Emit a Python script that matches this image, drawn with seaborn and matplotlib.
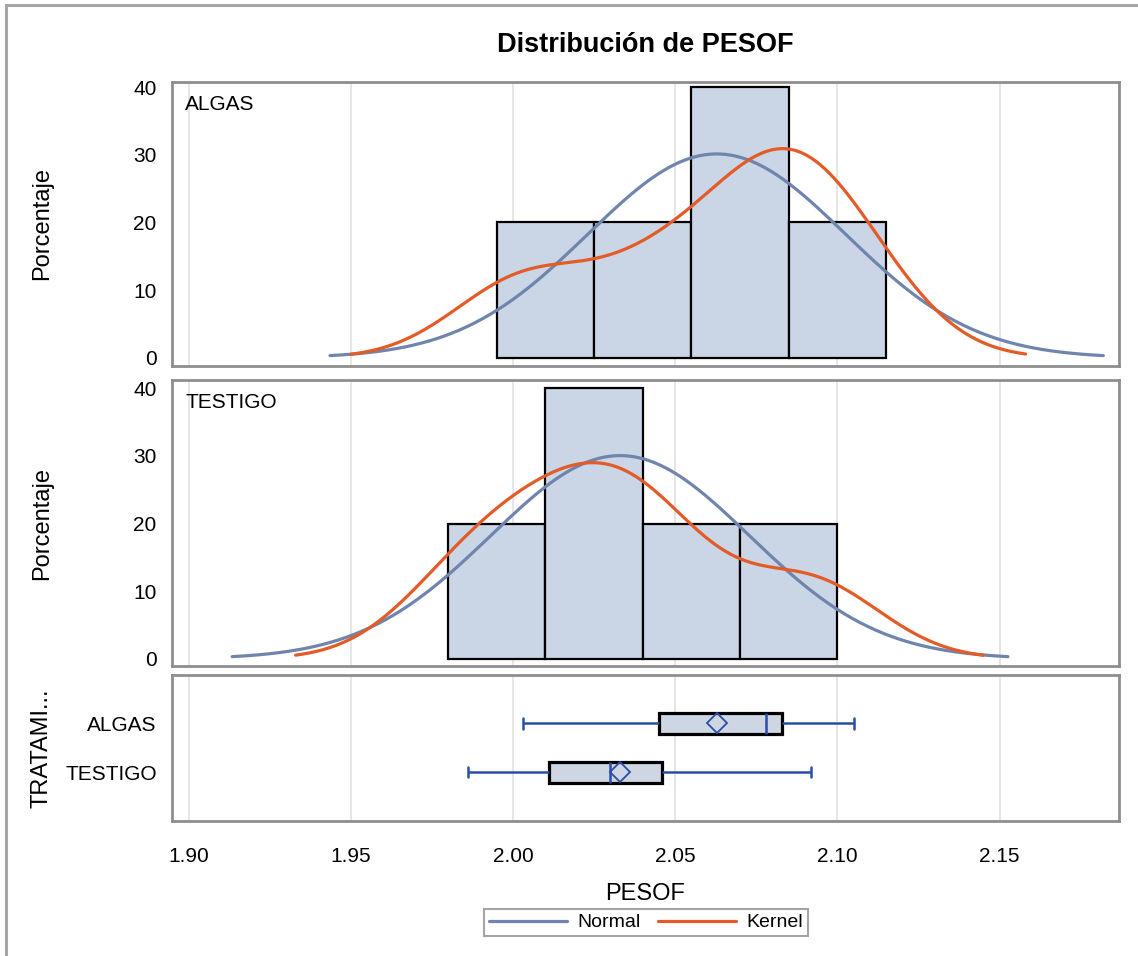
import matplotlib
matplotlib.use("Agg")
import matplotlib.pyplot as plt
from matplotlib import font_manager
from matplotlib.lines import Line2D
from matplotlib.patches import Rectangle
import seaborn as sns
import numpy as np
import pandas as pd

# PESOF observations per treatment (n = 5 each)
algas = [2.003, 2.045, 2.078, 2.083, 2.105]
testigo = [1.986, 2.011, 2.030, 2.046, 2.092]
groups = ["ALGAS", "TESTIGO"]

# histogram bins as in the SAS output
bin_width = 0.03
algas_bins = [1.995, 2.025, 2.055, 2.085, 2.115]
testigo_bins = [1.980, 2.010, 2.040, 2.070, 2.100]

# kernel bandwidth and how far the kernel curve runs past the data
kde_bw = 0.0215
kde_ext = 0.053

x_ticks = [1.90, 1.95, 2.00, 2.05, 2.10, 2.15]
y_ticks = [0, 10, 20, 30, 40]

FILL = "#CAD5E5"
NORMAL_C = "#7085AD"
KERNEL_C = "#E35B26"
BOX_BLUE = "#2A4DA8"
FRAME = "#8E8E8E"
GRID = "#E4E4E4"


def normal_curve(vals):
    m, s = np.mean(vals), np.std(vals, ddof=1)
    xs = np.linspace(m - 3 * s, m + 3 * s, 300)
    ys = 100 * bin_width * np.exp(-0.5 * ((xs - m) / s) ** 2) / (s * np.sqrt(2 * np.pi))
    return xs, ys


def kernel_curve(vals):
    v = np.asarray(vals)
    xs = np.linspace(v.min() - kde_ext, v.max() + kde_ext, 300)
    z = (xs[:, None] - v[None, :]) / kde_bw
    dens = np.exp(-0.5 * z ** 2).sum(axis=1) / (len(v) * kde_bw * np.sqrt(2 * np.pi))
    return xs, 100 * bin_width * dens


sns.set_style("white")
names = {f.name for f in font_manager.fontManager.ttflist}
narrow = "Liberation Sans Narrow" if "Liberation Sans Narrow" in names else "Liberation Sans"
plt.rcParams["font.family"] = [narrow, "DejaVu Sans"]
plt.rcParams["text.color"] = "black"
plt.rcParams["axes.labelcolor"] = "black"

W, H = 1138, 956
fig = plt.figure(figsize=(W / 100, H / 100), dpi=100)

left = 172 / W
width = (1119 - 172) / W


def axes_px(top, bottom):
    return fig.add_axes([left, 1 - bottom / H, width, (bottom - top) / H])


ax1 = axes_px(82, 366)
ax2 = axes_px(380, 666)
ax3 = axes_px(675, 821)

xlim = (1.8949, 2.1868)

for ax, vals, bins, lab, ylim in [
    (ax1, algas, algas_bins, "ALGAS", (-1.2, 40.75)),
    (ax2, testigo, testigo_bins, "TESTIGO", (-1.05, 41.2)),
]:
    ax.set_axisbelow(True)
    sns.histplot(x=vals, bins=bins, stat="percent", ax=ax, color=FILL,
                 edgecolor="black", linewidth=1.6, alpha=1)
    nx, ny = normal_curve(vals)
    kx, ky = kernel_curve(vals)
    sns.lineplot(x=nx, y=ny, ax=ax, color=NORMAL_C, linewidth=2.3)
    sns.lineplot(x=kx, y=ky, ax=ax, color=KERNEL_C, linewidth=2.3)
    ax.set_xlim(xlim)
    ax.set_ylim(ylim)
    ax.set_xticks(x_ticks)
    ax.set_yticks(y_ticks)
    ax.tick_params(axis="x", length=0, labelbottom=False)
    ax.set_xlabel("")
    ax.set_ylabel("")
    ax.annotate(lab, xy=(0, 1), xycoords="axes fraction", xytext=(13, -22),
                textcoords="offset pixels", va="center", ha="left", fontsize=15)

# box plot panel
df = pd.DataFrame({
    "PESOF": algas + testigo,
    "TRATAMIENTO": ["ALGAS"] * len(algas) + ["TESTIGO"] * len(testigo),
})
ax3.set_axisbelow(True)
sns.boxplot(data=df, x="PESOF", y="TRATAMIENTO", order=groups, orient="h", ax=ax3,
            width=0.43, color=FILL, linecolor="black", linewidth=2.3, showfliers=False,
            showmeans=True,
            meanprops=dict(marker="D", markerfacecolor="none", markeredgecolor=BOX_BLUE,
                           markersize=10, markeredgewidth=1.3),
            whiskerprops=dict(color=BOX_BLUE, linewidth=1.8),
            capprops=dict(color=BOX_BLUE, linewidth=1.8),
            medianprops=dict(color=BOX_BLUE, linewidth=1.8))
ax3.set_xlim(xlim)
ax3.set_ylim(2.0, -0.99)
ax3.set_xticks(x_ticks)
ax3.set_xticklabels([f"{t:.2f}" for t in x_ticks])
ax3.set_xlabel("PESOF", fontsize=17, labelpad=12)
ax3.set_ylabel("")

for ax in (ax1, ax2, ax3):
    ax.grid(axis="x", color=GRID, linewidth=1.3)
    ax.grid(axis="y", visible=False)
    for sp in ax.spines.values():
        sp.set_visible(True)
        sp.set_color(FRAME)
        sp.set_linewidth(2)
    ax.tick_params(axis="y", length=6, width=1.5, color=FRAME, pad=5, labelsize=15,
                   labelcolor="black")
ax3.tick_params(axis="x", length=6, width=1.5, color=FRAME, pad=13, labelsize=15,
                labelcolor="black")

# titles and axis labels
fig.text(645.5 / W, 1 - 45 / H, "Distribución de PESOF", ha="center", va="center",
         fontsize=19.5, fontweight="bold")
for txt, yc in [("Porcentaje", 224), ("Porcentaje", 523), ("TRATAMI...", 748)]:
    fig.text(42 / W, 1 - yc / H, txt, rotation=90, ha="center", va="center",
             fontsize=17, family=["Liberation Sans", "DejaVu Sans"])

handles = [Line2D([], [], color=NORMAL_C, lw=2.3, label="Normal"),
           Line2D([], [], color=KERNEL_C, lw=2.3, label="Kernel")]
leg = fig.legend(handles=handles, loc="center", ncol=2, bbox_to_anchor=(646 / W, 1 - 922.5 / H),
                 fontsize=14, frameon=True, fancybox=False, handlelength=4.0,
                 handletextpad=0.55, columnspacing=0.9, borderpad=0.25, borderaxespad=0)
leg.get_frame().set_edgecolor(FRAME)
leg.get_frame().set_linewidth(1.5)

# outer border (only left and top visible in the frame)
fig.add_artist(Rectangle((6 / W, -0.2), 2.0, 1.2 - 5 / H, transform=fig.transFigure,
                         fill=False, edgecolor="#A6A6A6", linewidth=2.2))

fig.savefig("out.png", dpi=100)
